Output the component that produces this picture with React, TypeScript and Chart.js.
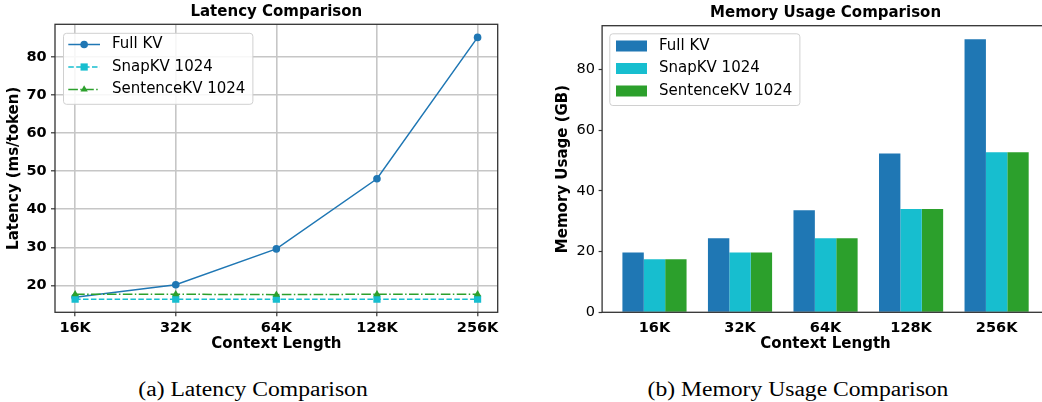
import { useEffect, useRef } from "react";
import { Chart, registerables } from "chart.js";

Chart.register(...registerables);

// ---------------- data ----------------
const contextLengths = ["16K", "32K", "64K", "128K", "256K"];
const seriesNames = ["Full KV", "SnapKV 1024", "SentenceKV 1024"];

const latencyFullKV = [16.9, 20.2, 29.6, 48.0, 85.1];
const latencySnapKV = [16.4, 16.4, 16.4, 16.4, 16.4];
const latencySentenceKV = [17.7, 17.7, 17.6, 17.7, 17.7];

const memoryFullKV = [19.7, 24.4, 33.6, 52.3, 89.9];
const memorySnapKV = [17.5, 19.7, 24.4, 34.0, 52.7];
const memorySentenceKV = [17.5, 19.7, 24.4, 34.0, 52.7];

const latencyTicks = [20, 30, 40, 50, 60, 70, 80];
const memoryTicks = [0, 20, 40, 60, 80];

// ---------------- styling ----------------
const FONT = '"DejaVu Sans", sans-serif';
const C_BLUE = "#1f77b4";
const C_CYAN = "#17becf";
const C_GREEN = "#2ca02c";
const SPINE = "#333333";
const GRID = "#c6c6c6";

const tickFontBold = { family: FONT, size: 14.5, weight: "bold" as const };
const tickFontNormal = { family: FONT, size: 14.5, weight: "normal" as const };
const labelFont = { family: FONT, size: 15, weight: "bold" as const };

const idx = contextLengths.map((_, i) => i);
const toPoints = (vals: number[]) => vals.map((y, i) => ({ x: i, y }));

function drawMarker(ctx: CanvasRenderingContext2D, style: string, x: number, y: number, r: number, color: string) {
  ctx.save();
  ctx.fillStyle = color;
  ctx.beginPath();
  if (style === "rect") {
    const s = r * Math.SQRT1_2;
    ctx.rect(x - s, y - s, 2 * s, 2 * s);
  } else if (style === "triangle") {
    let a = 0;
    ctx.moveTo(x + Math.sin(a) * r, y - Math.cos(a) * r);
    a += (2 * Math.PI) / 3;
    ctx.lineTo(x + Math.sin(a) * r, y - Math.cos(a) * r);
    a += (2 * Math.PI) / 3;
    ctx.lineTo(x + Math.sin(a) * r, y - Math.cos(a) * r);
    ctx.closePath();
  } else {
    ctx.arc(x, y, r, 0, Math.PI * 2);
  }
  ctx.fill();
  ctx.restore();
}

const insideLegend = {
  id: "insideLegend",
  afterDraw(chart: any, _args: any, o: any) {
    const { ctx, chartArea } = chart;
    const bx = chartArea.left + o.dx;
    const by = chartArea.top + o.dy;
    ctx.save();
    ctx.font = `${o.fontSize}px ${FONT}`;
    const widths = chart.data.datasets.map((d: any) => ctx.measureText(d.label).width);
    const bw = o.textX + Math.max(...widths) + o.padRight;
    const bh = o.height;
    ctx.beginPath();
    if ((ctx as any).roundRect) (ctx as any).roundRect(bx + 0.5, by + 0.5, bw, bh, 3);
    else ctx.rect(bx + 0.5, by + 0.5, bw, bh);
    ctx.fillStyle = "rgba(255,255,255,0.85)";
    ctx.fill();
    ctx.strokeStyle = "#d0d0d0";
    ctx.lineWidth = 1;
    ctx.stroke();
    chart.data.datasets.forEach((d: any, i: number) => {
      const cy = by + o.firstRow + i * o.rowGap;
      if (o.kind === "line") {
        ctx.save();
        ctx.strokeStyle = d.borderColor;
        ctx.lineWidth = d.borderWidth;
        ctx.setLineDash(d.borderDash || []);
        ctx.beginPath();
        ctx.moveTo(bx + o.handleX0, cy);
        ctx.lineTo(bx + o.handleX1, cy);
        ctx.stroke();
        ctx.restore();
        drawMarker(ctx, d.pointStyle, bx + (o.handleX0 + o.handleX1) / 2, cy, d.pointRadius, d.pointBackgroundColor);
      } else {
        ctx.fillStyle = d.backgroundColor;
        ctx.fillRect(bx + o.handleX0, cy - o.patchH / 2, o.handleX1 - o.handleX0, o.patchH);
      }
      ctx.fillStyle = "#000";
      ctx.textBaseline = "middle";
      ctx.textAlign = "left";
      ctx.fillText(d.label, bx + o.textX, cy);
    });
    ctx.restore();
  },
};

const spines = {
  id: "spines",
  afterDatasetsDraw(chart: any, _args: any, o: any) {
    const { ctx, chartArea } = chart;
    const { left, right, top, bottom } = chartArea;
    ctx.save();
    ctx.strokeStyle = o.color;
    ctx.lineWidth = o.width;
    ctx.strokeRect(left, top, right - left, bottom - top);
    ctx.restore();
  },
};

function margin(lo: number, hi: number, frac: number): [number, number] {
  const m = (hi - lo) * frac;
  return [lo - m, hi + m];
}

function latencyConfig(): any {
  const all = [...latencyFullKV, ...latencySnapKV, ...latencySentenceKV];
  const [ylo, yhi] = margin(Math.min(...all), Math.max(...all), 0.05);
  const [xlo, xhi] = margin(0, idx.length - 1, 0.05);
  const common = { fill: false, tension: 0, borderWidth: 1.5, pointBorderWidth: 0, pointHoverRadius: 0 };
  return {
    type: "line",
    data: {
      datasets: [
        {
          ...common,
          label: seriesNames[0],
          data: toPoints(latencyFullKV),
          borderColor: C_BLUE,
          pointBackgroundColor: C_BLUE,
          pointStyle: "circle",
          pointRadius: 3.8,
          order: 3,
        },
        {
          ...common,
          label: seriesNames[1],
          data: toPoints(latencySnapKV),
          borderColor: C_CYAN,
          pointBackgroundColor: C_CYAN,
          borderDash: [5.5, 2.4],
          pointStyle: "rect",
          pointRadius: 5.1,
          order: 2,
        },
        {
          ...common,
          label: seriesNames[2],
          data: toPoints(latencySentenceKV),
          borderColor: C_GREEN,
          pointBackgroundColor: C_GREEN,
          borderDash: [9.6, 2.4, 1.5, 2.4],
          pointStyle: "triangle",
          pointRadius: 4.2,
          order: 1,
        },
      ],
    },
    options: {
      responsive: false,
      animation: false,
      events: [],
      layout: { padding: { left: 0, right: 22.3, top: 0, bottom: 0 } },
      plugins: {
        legend: { display: false },
        tooltip: { enabled: false },
        title: {
          display: true,
          text: "Latency Comparison",
          fullSize: false,
          color: "#000",
          font: labelFont,
          padding: { top: 3.3, bottom: 3 },
        },
        insideLegend: {
          kind: "line",
          dx: 8,
          dy: 8.5,
          fontSize: 15,
          textX: 49,
          padRight: 7,
          height: 71,
          firstRow: 11.7,
          rowGap: 22.5,
          handleX0: 5.3,
          handleX1: 37,
        },
        spines: { color: SPINE, width: 1.3 },
      },
      scales: {
        x: {
          type: "linear",
          min: xlo,
          max: xhi,
          afterBuildTicks: (s: any) => {
            s.ticks = idx.map((v) => ({ value: v }));
          },
          afterFit: (s: any) => {
            s.height = 47.7;
          },
          ticks: {
            callback: (v: any) => contextLengths[v] ?? "",
            font: tickFontBold,
            color: "#000",
            padding: 3,
            maxRotation: 0,
            autoSkip: false,
          },
          grid: { color: GRID, lineWidth: 1.6, tickColor: SPINE, tickLength: 4, tickWidth: 1.2 },
          border: { display: false },
          title: {
            display: true,
            text: "Context Length",
            font: labelFont,
            color: "#000",
            padding: { top: 0, bottom: 6.5 },
          },
        },
        y: {
          type: "linear",
          min: ylo,
          max: yhi,
          afterBuildTicks: (s: any) => {
            s.ticks = latencyTicks.map((v) => ({ value: v }));
          },
          afterFit: (s: any) => {
            s.width = 55;
          },
          ticks: { font: tickFontBold, color: "#000", padding: 4.3 },
          grid: { color: GRID, lineWidth: 1.6, tickColor: SPINE, tickLength: 4, tickWidth: 1.2 },
          border: { display: false },
          title: {
            display: true,
            text: "Latency (ms/token)",
            font: labelFont,
            color: "#000",
            padding: { top: 5.5, bottom: 0 },
          },
        },
      },
    },
    plugins: [spines, insideLegend],
  };
}

function memoryConfig(): any {
  const barGroup = 0.75;
  const [xlo, xhi] = margin(-barGroup / 2, idx.length - 1 + barGroup / 2, 0.05);
  const all = [...memoryFullKV, ...memorySnapKV, ...memorySentenceKV];
  const yhi = Math.max(...all) * 1.05;
  const common = { borderWidth: 0, categoryPercentage: barGroup, barPercentage: 1.0 };
  return {
    type: "bar",
    data: {
      datasets: [
        { ...common, label: seriesNames[0], data: toPoints(memoryFullKV), backgroundColor: C_BLUE },
        { ...common, label: seriesNames[1], data: toPoints(memorySnapKV), backgroundColor: C_CYAN },
        { ...common, label: seriesNames[2], data: toPoints(memorySentenceKV), backgroundColor: C_GREEN },
      ],
    },
    options: {
      responsive: false,
      animation: false,
      events: [],
      layout: { padding: { left: 0, right: 0, top: 0, bottom: 0 } },
      plugins: {
        legend: { display: false },
        tooltip: { enabled: false },
        title: {
          display: true,
          text: "Memory Usage Comparison",
          fullSize: false,
          color: "#000",
          font: labelFont,
          padding: { top: 4.5, bottom: 3.2 },
        },
        insideLegend: {
          kind: "bar",
          dx: 7.2,
          dy: 7.6,
          fontSize: 15,
          textX: 49.7,
          padRight: 7,
          height: 71.7,
          firstRow: 12.7,
          rowGap: 22.5,
          handleX0: 6.7,
          handleX1: 37.7,
          patchH: 11,
        },
        spines: { color: SPINE, width: 1.3 },
      },
      scales: {
        x: {
          type: "linear",
          min: xlo,
          max: xhi,
          offset: false,
          afterBuildTicks: (s: any) => {
            s.ticks = idx.map((v) => ({ value: v }));
          },
          afterFit: (s: any) => {
            s.height = 47.7;
          },
          ticks: {
            callback: (v: any) => contextLengths[v] ?? "",
            font: tickFontBold,
            color: "#000",
            padding: 3,
            maxRotation: 0,
            autoSkip: false,
          },
          grid: {
            display: true,
            offset: false,
            drawOnChartArea: false,
            tickLength: 4,
            tickColor: "rgba(0,0,0,0)",
          },
          border: { display: false },
          title: {
            display: true,
            text: "Context Length",
            font: labelFont,
            color: "#000",
            padding: { top: 0, bottom: 6.5 },
          },
        },
        y: {
          type: "linear",
          min: 0,
          max: yhi,
          afterBuildTicks: (s: any) => {
            s.ticks = memoryTicks.map((v) => ({ value: v }));
          },
          afterFit: (s: any) => {
            s.width = 82.1;
          },
          ticks: { font: tickFontNormal, color: "#000", padding: 3.6 },
          grid: { drawOnChartArea: false, tickColor: SPINE, tickLength: 3.5, tickWidth: 1.2 },
          border: { display: false },
          title: {
            display: true,
            text: "Memory Usage (GB)",
            font: labelFont,
            color: "#000",
            padding: { top: 34.5, bottom: 0 },
          },
        },
      },
    },
    plugins: [spines, insideLegend],
  };
}

export default function App() {
  const leftRef = useRef<HTMLCanvasElement>(null);
  const rightRef = useRef<HTMLCanvasElement>(null);

  useEffect(() => {
    const c1 = new Chart(leftRef.current as HTMLCanvasElement, latencyConfig());
    const c2 = new Chart(rightRef.current as HTMLCanvasElement, memoryConfig());
    return () => {
      c1.destroy();
      c2.destroy();
    };
  }, []);

  const captionStyle: any = {
    position: "absolute",
    top: 379,
    width: 500,
    textAlign: "center",
    fontFamily: '"Liberation Serif", "Times New Roman", serif',
    fontSize: 20,
    lineHeight: "20px",
    whiteSpace: "nowrap",
    color: "#000",
    transform: "scaleX(1.18)",
    transformOrigin: "center",
  };

  return (
    <div
      style={{
        position: "absolute",
        left: 0,
        top: 0,
        width: 1042,
        height: 402,
        overflow: "hidden",
        background: "#fff",
      }}
    >
      <div style={{ position: "absolute", left: 0, top: 0, width: 520, height: 360 }}>
        <canvas ref={leftRef} width={520} height={360} style={{ display: "block", width: 520, height: 360 }} />
      </div>
      <div style={{ position: "absolute", left: 520, top: 0, width: 529, height: 360 }}>
        <canvas ref={rightRef} width={529} height={360} style={{ display: "block", width: 529, height: 360 }} />
      </div>
      <div style={{ ...captionStyle, left: 252.8 - 250 }}>(a) Latency Comparison</div>
      <div style={{ ...captionStyle, left: 797.7 - 250 }}>(b) Memory Usage Comparison</div>
    </div>
  );
}
